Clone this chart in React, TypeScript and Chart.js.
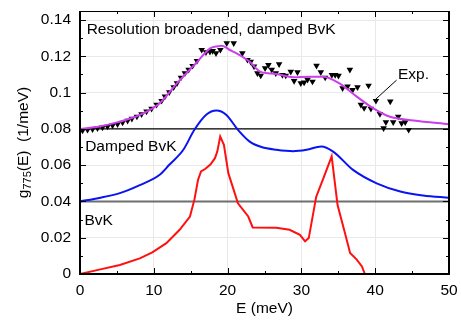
import React, { useEffect, useRef } from "react";
import { Chart, registerables } from "chart.js";

Chart.register(...registerables);

const FONT = "'Liberation Sans', Arial, Helvetica, sans-serif";

// Bare Born-von Karman DOS (red)
const bvkE = [0, 2.6, 5.4, 8.1, 9.8, 11.7, 13.5, 14.9, 15.5, 16.0, 16.4, 17.0, 17.7, 18.3, 18.6, 19.0, 19.5, 20.1, 21.4, 22.8, 23.4, 26.6, 28.4, 29.8, 30.5, 31.0, 32.0, 33.0, 34.1, 34.9, 35.9, 36.6, 37.5, 38.2, 38.6, 50];
const bvkG = [0, 0.0024, 0.005, 0.0086, 0.0119, 0.017, 0.0244, 0.0317, 0.041, 0.052, 0.0565, 0.058, 0.0605, 0.064, 0.0675, 0.0758, 0.0712, 0.0556, 0.039, 0.0317, 0.0257, 0.0255, 0.0244, 0.0216, 0.018, 0.0198, 0.0425, 0.053, 0.0648, 0.038, 0.0226, 0.0116, 0.0079, 0.0042, 0, 0];

// Damped BvK (blue)
const dampedE = [0, 2.6, 5.4, 8.1, 10.8, 12.1, 14.0, 15.5, 17.1, 18.5, 19.8, 21.4, 23.0, 24.6, 26.6, 28.9, 30.7, 32.7, 34.3, 37.0, 40.2, 43.4, 46.5, 50];
const dampedG = [0.04, 0.0419, 0.0446, 0.049, 0.0547, 0.0602, 0.0685, 0.0795, 0.0878, 0.0901, 0.0878, 0.0795, 0.073, 0.070, 0.0685, 0.0677, 0.0685, 0.0703, 0.0675, 0.0574, 0.050, 0.0455, 0.0433, 0.042];

// Resolution broadened, damped BvK (magenta)
const broadE = [0, 2.6, 5.4, 8.1, 10.8, 13.1, 15.5, 17.7, 18.7, 19.2, 20.3, 21.2, 23.0, 24.4, 26.6, 28.9, 31.1, 33.0, 35.2, 37.5, 39.7, 41.9, 45.2, 50];
const broadG = [0.080, 0.0813, 0.084, 0.0877, 0.0942, 0.105, 0.1153, 0.1245, 0.1256, 0.1259, 0.1235, 0.1217, 0.117, 0.1116, 0.1103, 0.1085, 0.1088, 0.1088, 0.105, 0.0978, 0.0914, 0.0868, 0.0846, 0.0826];

// Experimental points
const expE = [0.34, 1.02, 1.70, 2.37, 3.05, 3.73, 4.41, 5.09, 5.77, 6.45, 7.03, 7.71, 8.34, 9.02, 9.70, 10.38, 11.06, 11.51, 12.10, 12.69, 13.14, 13.68, 14.22, 14.72, 15.26, 15.85, 16.49, 17.07, 17.61, 17.98, 18.43, 19.02, 19.88, 20.83, 22.0, 22.69, 23.13, 23.58, 24.04, 24.49, 25.08, 25.53, 25.98, 26.53, 26.98, 27.43, 27.88, 28.56, 29.01, 29.47, 29.92, 30.37, 30.83, 31.5, 32.05, 32.63, 33.22, 34.13, 34.58, 35.03, 35.58, 36.25, 36.57, 36.93, 37.6, 38.06, 38.5, 39.1, 39.42, 40.1, 40.64, 41.14, 41.45, 42.04, 42.44, 43.12, 43.58, 44.07, 44.53];
const expG = [0.0791, 0.0795, 0.0799, 0.0804, 0.0808, 0.0813, 0.0819, 0.0826, 0.0835, 0.0845, 0.0856, 0.0868, 0.0881, 0.0896, 0.0911, 0.0933, 0.0955, 0.0979, 0.1003, 0.1030, 0.1052, 0.1083, 0.1107, 0.1126, 0.1148, 0.1175, 0.1236, 0.1223, 0.1226, 0.1230, 0.1218, 0.1236, 0.1273, 0.1273, 0.1218, 0.1181, 0.1171, 0.1144, 0.1107, 0.1094, 0.1135, 0.1153, 0.1126, 0.1107, 0.1157, 0.1098, 0.1094, 0.1116, 0.1065, 0.1113, 0.1052, 0.1056, 0.1071, 0.1061, 0.1149, 0.1113, 0.1083, 0.1098, 0.1098, 0.1093, 0.1025, 0.1034, 0.1126, 0.1015, 0.1030, 0.0933, 0.0915, 0.1039, 0.0911, 0.0955, 0.0882, 0.0804, 0.0837, 0.0951, 0.0837, 0.0868, 0.0832, 0.0837, 0.0795];

// Offset baselines and the "Exp." pointer
const baseE = [0, 50];
const baseUpper = [0.08, 0.08];
const baseLower = [0.04, 0.04];
const pointerE = [40.05, 42.9];
const pointerG = [0.0963, 0.1069];

// Axes
const xMajorTicks = [0, 10, 20, 30, 40, 50];
const xMinorTicks = [5, 15, 25, 35, 45];
const yMajorTicks = [0, 0.02, 0.04, 0.06, 0.08, 0.1, 0.12, 0.14];
const yMinorTicks = [0.01, 0.03, 0.05, 0.07, 0.09, 0.11, 0.13];

// Text labels inside the plot
const labelTexts = ["Resolution broadened, damped BvK", "Damped BvK", "BvK", "Exp."];
const labelE = [0.9, 0.7, 0.6, 43.08];
const labelG = [0.1346, 0.0701, 0.0294, 0.1098];

const zip = (xs: number[], ys: number[]) => xs.map((x, i) => ({ x, y: ys[i] }));

const framePlugin = {
  id: "framePlugin",
  afterDatasetsDraw(chart: any) {
    const { ctx, chartArea: a, scales } = chart;
    const xs = scales.x;
    const ys = scales.y;
    ctx.save();
    ctx.strokeStyle = "#000";
    ctx.lineWidth = 1;
    ctx.beginPath();
    const xt = (v: number, len: number) => {
      const p = Math.round(xs.getPixelForValue(v)) + 0.5;
      ctx.moveTo(p, a.bottom);
      ctx.lineTo(p, a.bottom - len);
      ctx.moveTo(p, a.top);
      ctx.lineTo(p, a.top + len);
    };
    const yt = (v: number, len: number) => {
      const p = Math.round(ys.getPixelForValue(v)) + 0.5;
      ctx.moveTo(a.left, p);
      ctx.lineTo(a.left + len, p);
      ctx.moveTo(a.right, p);
      ctx.lineTo(a.right - len, p);
    };
    xMajorTicks.forEach((v) => xt(v, 6));
    xMinorTicks.forEach((v) => xt(v, 3));
    yMajorTicks.forEach((v) => yt(v, 6));
    yMinorTicks.forEach((v) => yt(v, 3));
    ctx.stroke();

    // frame
    ctx.lineWidth = 1;
    ctx.beginPath();
    ctx.moveTo(a.left, a.top + 0.5);
    ctx.lineTo(a.right, a.top + 0.5);
    ctx.stroke();
    ctx.lineWidth = 2;
    ctx.beginPath();
    ctx.moveTo(a.left, a.top);
    ctx.lineTo(a.left, a.bottom);
    ctx.lineTo(a.right, a.bottom);
    ctx.lineTo(a.right, a.top);
    ctx.stroke();

    // labels
    ctx.fillStyle = "#000";
    ctx.font = `15.5px ${FONT}`;
    ctx.textAlign = "left";
    ctx.textBaseline = "middle";
    labelTexts.forEach((t, i) => {
      ctx.fillText(t, xs.getPixelForValue(labelE[i]), ys.getPixelForValue(labelG[i]));
    });

    // y title with subscript
    const cx = 24;
    const cy = (a.top + a.bottom) / 2;
    ctx.translate(cx, cy);
    ctx.rotate(-Math.PI / 2);
    const mainFont = `15.5px ${FONT}`;
    const subFont = `11px ${FONT}`;
    const parts = [
      { t: "g", f: mainFont, dy: 0 },
      { t: "775", f: subFont, dy: 4 },
      { t: "(E)  (1/meV)", f: mainFont, dy: 0 },
    ];
    let total = 0;
    parts.forEach((p) => {
      ctx.font = p.f;
      total += ctx.measureText(p.t).width;
    });
    let px = -total / 2;
    parts.forEach((p) => {
      ctx.font = p.f;
      ctx.fillText(p.t, px, p.dy);
      px += ctx.measureText(p.t).width;
    });
    ctx.restore();
  },
};

export default function App() {
  const ref = useRef<HTMLCanvasElement>(null);
  useEffect(() => {
    if (!ref.current) return;
    const chart = new Chart(ref.current, {
      type: "line",
      data: {
        datasets: [
          {
            label: "Resolution broadened, damped BvK",
            data: zip(broadE, broadG),
            borderColor: "#cc3dec",
            borderWidth: 2,
            pointRadius: 0,
            cubicInterpolationMode: "monotone",
          },
          {
            label: "Exp.",
            data: zip(expE, expG),
            showLine: false,
            pointStyle: "triangle",
            rotation: 180,
            pointRadius: 3.8,
            backgroundColor: "#000",
            borderColor: "#000",
            borderWidth: 0,
          },
          {
            label: "pointer",
            data: zip(pointerE, pointerG),
            borderColor: "#000",
            borderWidth: 1,
            pointRadius: 0,
          },
          {
            label: "Damped BvK",
            data: zip(dampedE, dampedG),
            borderColor: "#0a14f0",
            borderWidth: 2,
            pointRadius: 0,
            cubicInterpolationMode: "monotone",
          },
          {
            label: "BvK",
            data: zip(bvkE, bvkG),
            borderColor: "#ff1010",
            borderWidth: 2,
            pointRadius: 0,
            tension: 0,
          },
          {
            label: "base 0.08",
            data: zip(baseE, baseUpper),
            borderColor: "#000",
            borderWidth: 1.3,
            pointRadius: 0,
          },
          {
            label: "base 0.04",
            data: zip(baseE, baseLower),
            borderColor: "#6e6e6e",
            borderWidth: 2,
            pointRadius: 0,
          },
        ],
      },
      options: {
        animation: false,
        responsive: false,
        events: [],
        layout: { padding: { top: 11, right: 12, left: 0, bottom: 0 } },
        plugins: { legend: { display: false }, tooltip: { enabled: false } },
        scales: {
          x: {
            type: "linear",
            min: 0,
            max: 50,
            border: { display: false },
            grid: { color: "#e9e9e9", lineWidth: 1, drawTicks: false },
            afterBuildTicks: (s: any) => {
              s.ticks = xMajorTicks.map((v) => ({ value: v }));
            },
            afterFit: (s: any) => {
              s.height = 48;
              s.paddingLeft = 0;
              s.paddingRight = 0;
            },
            ticks: {
              color: "#000",
              padding: 7,
              maxRotation: 0,
              font: { family: FONT, size: 15.5 },
              callback: (v: any) => String(v),
            },
            title: {
              display: true,
              text: "E (meV)",
              color: "#000",
              padding: { top: 0, bottom: 4 },
              font: { family: FONT, size: 15.5 },
            },
          },
          y: {
            type: "linear",
            min: 0,
            max: 0.145,
            border: { display: false },
            grid: { color: "#e9e9e9", lineWidth: 1, drawTicks: false },
            afterBuildTicks: (s: any) => {
              s.ticks = yMajorTicks.map((v) => ({ value: v }));
            },
            afterFit: (s: any) => {
              s.width = 80;
              s.paddingTop = 0;
              s.paddingBottom = 0;
            },
            ticks: {
              color: "#000",
              padding: 9,
              font: { family: FONT, size: 15.5 },
              callback: (v: any) => String(+Number(v).toFixed(2)),
            },
          },
        },
      },
      plugins: [framePlugin],
    });
    return () => chart.destroy();
  }, []);
  return (
    <div style={{ position: "fixed", left: 0, top: 0, width: 461, height: 322, background: "#fff" }}>
      <canvas ref={ref} width={461} height={322} style={{ display: "block" }} />
    </div>
  );
}
